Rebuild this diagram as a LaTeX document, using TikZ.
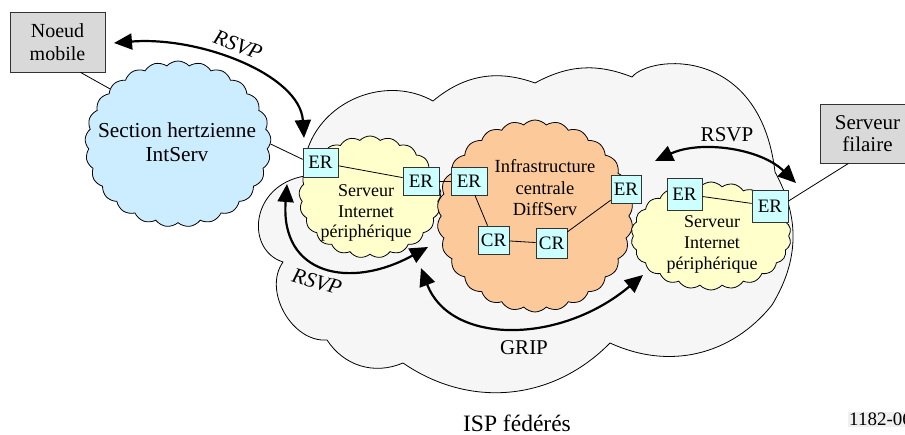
\documentclass[tikz,border=0pt]{standalone}
\usepackage{fontspec}
\setmainfont{Liberation Serif}
\usetikzlibrary{shapes.symbols,arrows.meta}

\definecolor{ispgray}{RGB}{246,246,246}
\definecolor{wireless}{RGB}{204,236,255}
\definecolor{edgeyellow}{RGB}{255,255,204}
\definecolor{coreorange}{RGB}{252,202,154}
\definecolor{routercyan}{RGB}{204,255,255}
\definecolor{hostgray}{RGB}{217,217,217}

\begin{document}
\begin{tikzpicture}[x=1pt,y=-1pt,
  font=\fontsize{19}{21}\selectfont,
  router/.style={draw=black!80, fill=routercyan, line width=0.8pt,
    minimum width=35pt, minimum height=29pt, inner sep=0pt},
  host/.style={draw=black!80, fill=hostgray, line width=0.8pt, align=center, inner sep=0pt},
  puffy/.style={cloud, draw=black, line width=0.8pt, cloud ignores aspect, inner sep=0pt,
    cloud puff arc=95},
  lbl/.style={align=center, inner sep=0pt},
  link/.style={draw=black, line width=0.8pt},
  signal/.style={line width=2.2pt,
    {Triangle[length=18pt,width=16pt]}-{Triangle[length=18pt,width=16pt]}},
]
\useasboundingbox (0,0) rectangle (905,435);

% federated ISP domain
\path[draw=black, line width=0.8pt, fill=ispgray]
  (308,148) to[bend left=50] (433,101)
  to[bend left=30] (535,83)
  to[bend left=25] (632,77)
  .. controls (650,55) and (760,45) .. (775,172)
  to[bend left=30] (772,305)
  to[bend left=38] (610,343)
  to[bend left=40] (403,363)
  to[bend left=40] (327,340)
  to[bend left=65] (283,262)
  .. controls (245,250) and (250,185) .. (305,176)
  -- cycle;

% sub-networks
\node[puffy, fill=wireless, cloud puffs=25,
      minimum width=186pt, minimum height=166pt] (intserv) at (178,144) {};
\node[puffy, fill=edgeyellow, cloud puffs=21,
      minimum width=142pt, minimum height=122pt] (edgeL) at (370,197) {};
\node[puffy, fill=coreorange, cloud puffs=26,
      minimum width=196pt, minimum height=192pt] (core) at (535,216) {};
\node[puffy, fill=edgeyellow, cloud puffs=22,
      minimum width=160pt, minimum height=108pt] (edgeR) at (711,236) {};

\node[lbl, font=\fontsize{21.3}{24}\selectfont] at (177,142) {Section hertzienne\\IntServ};
\node[lbl, font=\fontsize{18}{20.5}\selectfont] at (366,213) {Serveur\\Internet\\périphérique};
\node[lbl, font=\fontsize{18.5}{21.5}\selectfont] at (545,188) {Infrastructure\\centrale\\DiffServ};
\node[lbl, font=\fontsize{18}{21}\selectfont] at (712,244) {Serveur\\Internet\\périphérique};

% end hosts
\node[host, minimum width=95pt, minimum height=60pt, font=\fontsize{20}{23}\selectfont]
  (nm) at (57.5,42) {Noeud\\mobile};
\node[host, minimum width=95pt, minimum height=59pt, font=\fontsize{21}{22}\selectfont]
  (sf) at (867.5,133.5) {Serveur\\filaire};

% routers
\node[router] (er1) at (320.5,162.5) {ER};
\node[router, minimum width=36pt, minimum height=28pt] (er2) at (421,181) {ER};
\node[router, minimum width=36pt, minimum height=28pt] (er3) at (469,181) {ER};
\node[router, minimum width=30pt, minimum height=28pt] (er4) at (626,189) {ER};
\node[router, minimum width=31pt, minimum height=28pt] (cr1) at (493.5,240) {CR};
\node[router, minimum width=31pt, minimum height=30pt] (cr2) at (551.5,243.5) {CR};
\node[router, minimum height=32pt] (er5) at (684.5,194) {ER};
\node[router, minimum width=36pt, minimum height=32pt] (er6) at (770,206) {ER};

% links
\draw[link] ([xshift=23pt]nm.south) -- (intserv.141);
\draw[link] (intserv.east) -- (er1.170);
\draw[link] (er1) -- (er2);
\draw[link] (er2) -- (er3);
\draw[link] (er3) -- (cr1);
\draw[link] (cr1) -- (cr2);
\draw[link] (cr2) -- (er4);
\draw[link] (er5) -- (er6);
\draw[link] (er6.15) -- ([xshift=-19pt]sf.south);

% signalling arrows
\coordinate (s1a) at (114,43);  \coordinate (s1b) at (304,138);
\coordinate (s2a) at (287,184); \coordinate (s2b) at (428,247);
\coordinate (s3a) at (421,268); \coordinate (s3b) at (643,275);
\coordinate (s4a) at (655,161); \coordinate (s4b) at (796,183);
\draw[signal] (s1a) .. controls (200,36) and (300,75) .. (s1b);
\draw[signal] (s2a) .. controls (280,275) and (350,290) .. (s2b);
\draw[signal] (s3a) .. controls (450,345) and (560,345) .. (s3b);
\draw[signal] (s4a) .. controls (700,140) and (760,148) .. (s4b);

% labels
\node[lbl, rotate=-21, font=\itshape\fontsize{21.5}{23}\selectfont] (rsvp1) at (238,45) {RSVP};
\node[lbl, rotate=-16, font=\itshape\fontsize{21.5}{23}\selectfont] (rsvp2) at (317,282) {RSVP};
\node[lbl, font=\fontsize{21}{23}\selectfont] (rsvp3) at (727,135) {RSVP};
\node[lbl, font=\fontsize{21}{23}\selectfont] (grip) at (524,348) {GRIP};
\node[lbl, font=\fontsize{23.5}{25}\selectfont] (isp) at (517,423) {ISP fédérés};
\node[fill=gray!12, inner sep=1pt, anchor=west, font=\fontsize{19}{21}\selectfont] (fig) at (848,419.5) {1182-06};
\end{tikzpicture}
\end{document}
